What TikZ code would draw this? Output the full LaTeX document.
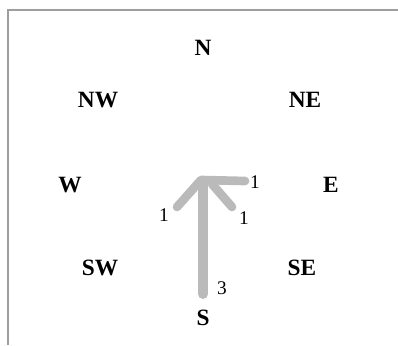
\documentclass[tikz,border=0pt]{standalone}
\usepackage{fontspec}
\setmainfont{Liberation Serif}
\begin{document}
\begin{tikzpicture}[x=0.75pt,y=-0.75pt,
  dir/.style={font=\fontsize{17.5}{19}\selectfont\bfseries, inner sep=0pt},
  num/.style={font=\fontsize{14.5}{16}\selectfont, inner sep=0pt},
  flow/.style={draw=black!27, line width=6.5pt, line cap=round, line join=round},
  frame/.style={draw=black!38, line width=1.5pt}]
\useasboundingbox (0,0) rectangle (398,345);
\draw[frame] (8,345) -- (8,10) -- (398,10);
\node[dir] (N)  at (203,48) {N};
\node[dir] (NW) at (98,100) {NW};
\node[dir] (NE) at (305,100) {NE};
\node[dir] (W)  at (70,185) {W};
\node[dir] (E)  at (331,185) {E};
\node[dir] (SW) at (100,268) {SW};
\node[dir] (SE) at (302,268) {SE};
\node[dir] (S)  at (203,318) {S};
\coordinate (c) at (201,180);
\coordinate (s0) at (203,294);
\coordinate (s1) at (203,184);
\coordinate (l0) at (177,207);
\coordinate (r0) at (245,181);
\coordinate (d0) at (232,207);
\coordinate (d1) at (212,184);
\draw[flow, line width=7.5pt] (s0) -- (s1);
\draw[flow] (l0) -- (c) -- (r0);
\draw[flow] (d0) -- (d1);
\node[num] (n3) at (222,288) {3};
\node[num] (nl) at (164,215) {1};
\node[num] (nd) at (244,218) {1};
\node[num] (nr) at (255,182) {1};
\end{tikzpicture}
\end{document}
